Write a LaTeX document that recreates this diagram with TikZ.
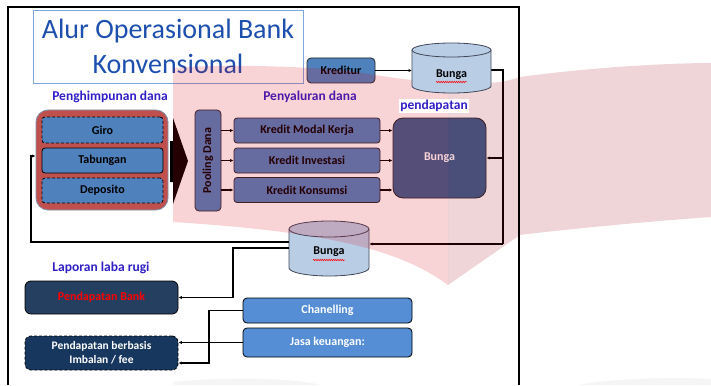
\documentclass[tikz,border=0pt]{standalone}
\usepackage{fontspec}
\setmainfont{Carlito}
\usetikzlibrary{arrows.meta,decorations.pathmorphing,calc}
\definecolor{acc}{HTML}{4F81BD}
\definecolor{accdk}{HTML}{3A5F8E}
\definecolor{lblc}{HTML}{3020C8}
\definecolor{titlec}{HTML}{1C4FAE}
\definecolor{titleb}{HTML}{7FA6DC}
\definecolor{contr}{HTML}{C0504D}
\definecolor{contb}{HTML}{7F93B0}
\definecolor{cylc}{HTML}{B9CDE5}
\definecolor{cyld}{HTML}{404858}
\definecolor{navy}{HTML}{243F60}
\definecolor{navyb}{HTML}{17375E}
\definecolor{lblue}{HTML}{558ED5}
\definecolor{wmA}{HTML}{DC0014}
\definecolor{wmB}{HTML}{A00014}
\begin{document}
\begin{tikzpicture}[x=1pt,y=-1pt,
  lbl/.style={font=\fontsize{13.5}{16}\selectfont\bfseries, text=lblc, inner sep=0pt},
  btxt/.style={font=\fontsize{12}{14}\selectfont\bfseries},
  bbox/.style={draw=black, line width=0.8pt, fill=acc, rounded corners=3pt, inner sep=0pt, btxt},
  conn/.style={line width=1.3pt, black},
  arr/.style={conn, -{Latex[length=3.5pt,width=3.2pt]}}]
\useasboundingbox (0,0) rectangle (711,385);
\fill[white] (0,0) rectangle (711,385);
% faint grey shapes at the bottom
\fill[black!4] (173,385) -- (173,382) .. controls (220,377) and (290,377) .. (320,385) -- cycle;
\fill[black!4] (579,385) .. controls (610,378) and (680,377) .. (711,379) -- (711,385) -- cycle;

% title
\node[draw=titleb, line width=0.8pt, minimum width=270pt, minimum height=73pt, align=center,
  inner sep=0pt, text=titlec, font=\fontsize{28}{35}\selectfont] (title) at (168,46.5)
  {Alur Operasional Bank\\Konvensional};

% labels
\node[lbl] (lpeng) at (110,97) {Penghimpunan dana};
\node[lbl] (lpeny) at (310,97) {Penyaluran dana};
\node[lbl] (llap) at (101,268) {Laporan laba rugi};

% left container
\node[draw=contb, line width=0.8pt, fill=contr, rounded corners=12pt, minimum width=132pt,
  minimum height=100pt, inner sep=0pt] (container) at (102,160) {};
\node[bbox, dashed, dash pattern=on 3pt off 2pt, minimum width=121pt, minimum height=26pt] (giro) at (102.5,130) {Giro};
\node[bbox, minimum width=121pt, minimum height=25pt] (tab) at (102.5,160.5) {Tabungan};
\node[bbox, dashed, dash pattern=on 3pt off 2pt, minimum width=121pt, minimum height=25pt] (dep) at (102.5,190.5) {Deposito};

% big block arrow
\fill[black] (170,141) -- (173,141) -- (173,118) -- (188,161) -- (173,204) -- (173,182) -- (170,182) -- cycle;

% pooling
\node[bbox, draw=black!85, rounded corners=4pt, minimum width=26pt, minimum height=101pt] (pool) at (208,160.5) {};
\node[btxt, rotate=90] (pooltxt) at (pool.center) {Pooling Dana};

% kredit boxes
\node[bbox, draw=black!85, minimum width=146pt, minimum height=25pt] (kmk) at (307,130.5) {Kredit Modal Kerja};
\node[bbox, draw=black!85, minimum width=146pt, minimum height=25pt] (ki) at (307,160.5) {Kredit Investasi};
\node[bbox, draw=black!85, minimum width=146pt, minimum height=25pt] (kk) at (307,190) {Kredit Konsumsi};

\draw[arr] (kmk.west -| pool.east) -- (kmk.west);
\draw[arr] (ki.west -| pool.east) -- (ki.west);
\draw[arr] (kk.west -| pool.east) -- (kk.west);

% big Bunga
\node[draw=black!85, line width=0.8pt, fill=accdk, rounded corners=10pt, minimum width=93pt,
  minimum height=80pt, inner sep=0pt, btxt, text=white] (bbig) at (439.5,158) {Bunga};
\draw[arr] (kmk.east) -- (kmk.east -| bbig.west);
\draw[arr] (ki.east) -- (ki.east -| bbig.west);
\draw[arr] (kk.east) -- (kk.east -| bbig.west);

% kreditur
\node[bbox, draw=black!85, rounded corners=4pt, minimum width=68pt, minimum height=25pt] (kred) at (341,70.5) {Kreditur};

% bottom cylinder
\node[minimum width=80pt, minimum height=55pt, inner sep=0pt] (cylB) at (329,248.5) {};
\filldraw[fill=cylc, draw=cyld, line width=0.8pt] (289,229) -- (289,268)
  arc[start angle=180,end angle=360,x radius=40pt,y radius=8pt] -- (369,229)
  arc[start angle=0,end angle=180,x radius=40pt,y radius=8pt] -- cycle;
\draw[cyld, line width=0.8pt] (289,229) arc[start angle=180,end angle=360,x radius=40pt,y radius=8pt];
\node[btxt] (cylBtxt) at (329,252) {Bunga};
\draw[red, line width=0.5pt, decorate, decoration={snake, amplitude=0.8pt, segment length=2.2pt}] (313,260) -- (345,260);

% connectors
\coordinate (rTop) at (503,70);
\coordinate (rBot) at (503,244);
\coordinate (lA) at (31,242);
\coordinate (lB) at (31,156);
\coordinate (pA) at (233,248);
\coordinate (cB) at (209,363);

\draw[arr] (kred.east) -- (kred.east -| 412,0);
\draw[conn] (491,70) -- (rTop) -- (rBot);
\draw[arr] (rBot) -- (rBot -| cylB.east);
\draw[arr] (rTop |- bbig.east) -- (bbig.east);
\draw[arr, line width=1.1pt] (cylB.west |- lA) -- (lA) -- (lB) -- (lB -| container.west);

% bottom boxes
\node[draw=black, line width=0.8pt, fill=navy, rounded corners=6pt, minimum width=153pt,
  minimum height=33pt, inner sep=0pt, btxt, text=red] (pbank) at (101.5,297.5) {Pendapatan Bank};
\node[draw=black, line width=0.8pt, dashed, dash pattern=on 3pt off 2pt, fill=navyb, rounded corners=6pt,
  minimum width=153pt, minimum height=34pt, inner sep=0pt, align=center, text=white,
  font=\fontsize{11.5}{14}\selectfont\bfseries] (fee) at (101.5,353) {Pendapatan berbasis\\Imbalan / fee};
\node[bbox, fill=lblue, rounded corners=4pt, minimum width=169pt, minimum height=25pt, text=white] (chan) at (327.5,310.5) {Chanelling};
\node[bbox, fill=lblue, rounded corners=4pt, minimum width=169pt, minimum height=29pt, text=white] (jasa) at (327.5,342.5) {Jasa keuangan:};

\draw[arr] (cylB.west |- pA) -- (pA) |- (pbank.east);
\draw[arr] (chan.west) -| (cB) -- (cB -| fee.east);
\draw[arr] (jasa.west) -- (jasa.west -| fee.east);

% watermark overlay
\fill[wmA, fill opacity=0.17] (173,68) .. controls (220,64) and (300,66) .. (350,71)
  .. controls (380,76) and (420,82) .. (448,83) -- (448,285)
  .. controls (400,250) and (330,232) .. (173,222) -- cycle;
\fill[wmB, fill opacity=0.165] (448,83) .. controls (480,84) and (500,84) .. (520,77)
  .. controls (600,66) and (680,63) .. (711,63) -- (711,217)
  .. controls (640,222) and (560,230) .. (520,235) -- (448,285) -- cycle;

% elements above the overlay
\node[minimum width=79pt, minimum height=50pt, inner sep=0pt] (cylT) at (451.5,68) {};
\filldraw[fill=cylc, draw=cyld, line width=0.8pt] (412,50) -- (412,86)
  arc[start angle=180,end angle=360,x radius=39.5pt,y radius=7pt] -- (491,50)
  arc[start angle=0,end angle=180,x radius=39.5pt,y radius=7pt] -- cycle;
\draw[cyld, line width=0.8pt] (412,50) arc[start angle=180,end angle=360,x radius=39.5pt,y radius=7pt];
\node[btxt] (cylTtxt) at (451.5,75) {Bunga};
\draw[red, line width=0.5pt, decorate, decoration={snake, amplitude=0.8pt, segment length=2.2pt}] (436,82) -- (467,82);
\node[lbl, fill=white, inner sep=1.5pt] (lpend) at (434,106) {pendapatan};

% frame
\draw[line width=2.5pt] (8,385) -- (8,7) -- (519,7) -- (519,385);
\end{tikzpicture}
\end{document}
